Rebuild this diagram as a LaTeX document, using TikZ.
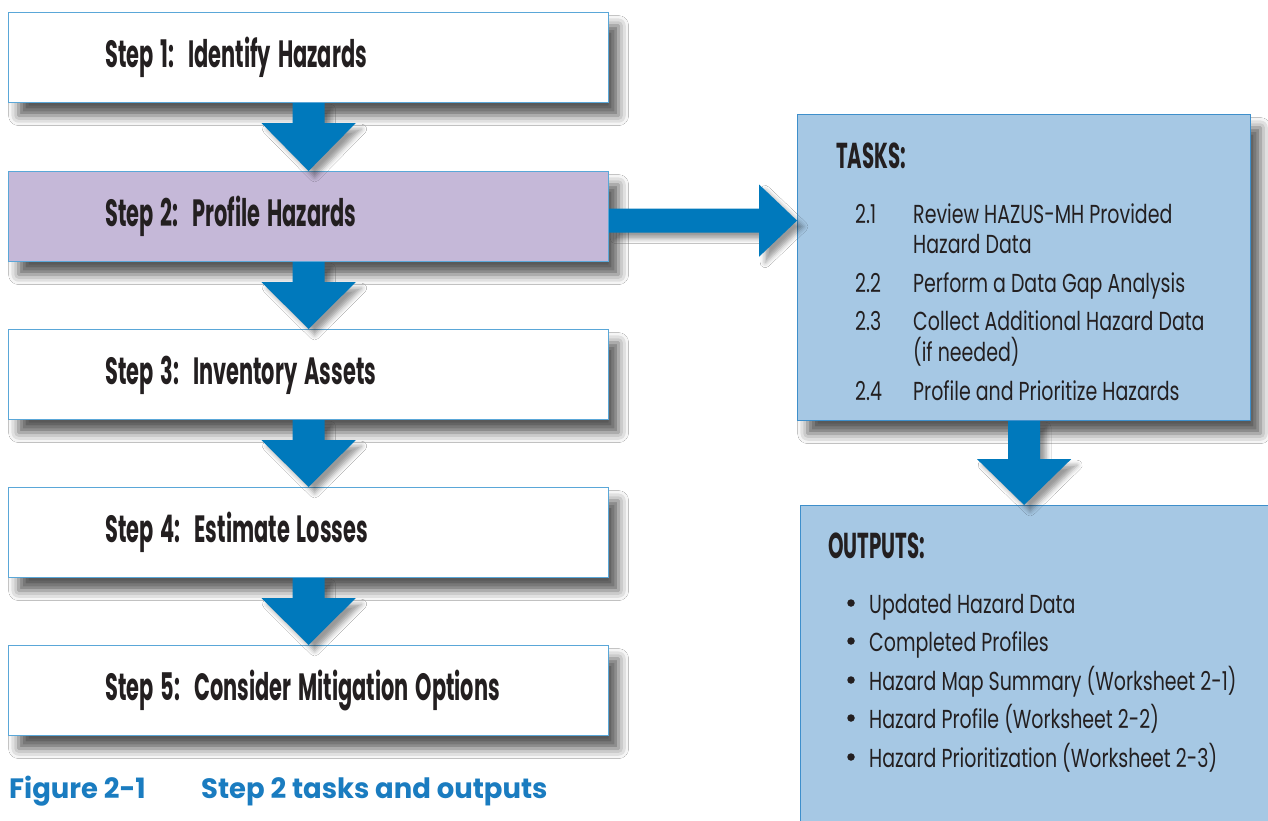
\documentclass[tikz,border=0pt]{standalone}
\usepackage{fontspec}
\usetikzlibrary{calc,shadows.blur}
\newfontfamily\headf{Poppins}[FakeStretch=0.55]
\newfontfamily\bodyf{Poppins}[FakeStretch=0.73]
\newfontfamily\capf{Poppins}[FakeStretch=0.98]
\definecolor{arrowblue}{HTML}{0079BC}
\definecolor{edgeblue}{HTML}{5AA7D8}
\definecolor{boxedge}{HTML}{3E8FCB}
\definecolor{stepviolet}{HTML}{C5B8D8}
\definecolor{taskblue}{HTML}{A6C8E4}
\definecolor{textblack}{HTML}{231F20}
\definecolor{capblue}{HTML}{1A7CC0}
\newcommand\wsp{\hspace{7pt}}
\newcommand\blockdown[3]{%
  \fill[blockarrow] ($(#1.south)+(-16,0)$) -- ($(#1.south)+(-16,#3)$) -- ($(#1.south)+(-47,#3)$) -- (#2) -- ($(#1.south)+(47,#3)$) -- ($(#1.south)+(16,#3)$) -- ($(#1.south)+(16,0)$) -- cycle;}
\begin{document}
\begin{tikzpicture}[x=1pt,y=-1pt,
  boxshadow/.style={blur shadow={shadow xshift=10pt, shadow yshift=-13pt, shadow blur radius=10pt, shadow opacity=65}},
  stepbox/.style={draw=edgeblue, line width=1.2pt, fill=white, minimum width=600pt, minimum height=90pt,
    anchor=north west, boxshadow},
  steptxt/.style={font=\headf\bfseries\fontsize{38}{40}\selectfont, text=textblack, anchor=base west, inner sep=0pt},
  bigbox/.style={draw=boxedge, line width=1.2pt, fill=taskblue, anchor=north west, boxshadow},
  headtxt/.style={font=\headf\bfseries\fontsize{36}{38}\selectfont, text=textblack, anchor=base west, inner sep=0pt},
  bodytxt/.style={font=\bodyf\fontsize{26}{28}\selectfont, text=textblack, anchor=base west, inner sep=0pt},
  captxt/.style={font=\capf\bfseries\fontsize{28}{30}\selectfont, text=capblue, anchor=base west, inner sep=0pt},
  bulletdot/.style={circle, fill=textblack, inner sep=0pt, minimum size=7.5pt},
  blockarrow/.style={fill=arrowblue, blur shadow={shadow xshift=6pt, shadow yshift=-6pt, shadow blur radius=5pt, shadow opacity=40}}
]
\useasboundingbox (0,0) rectangle (1268,821);
\fill[white] (0,0) rectangle (1268,821);
\clip (0,0) rectangle (1268,821);

% step boxes
\node[stepbox] (s1) at (8,12) {};
\node[stepbox, fill=stepviolet] (s2) at (8,171) {};
\node[stepbox] (s3) at (8,329) {};
\node[stepbox] (s4) at (8,487) {};
\node[stepbox] (s5) at (8,645) {};
\node[steptxt] (l1) at ($(s1.west)+(97,10)$) {Step\wsp 1:\wsp\wsp Identify\wsp Hazards};
\node[steptxt] (l2) at ($(s2.west)+(97,10)$) {Step\wsp 2:\wsp\wsp Profile\wsp Hazards};
\node[steptxt] (l3) at ($(s3.west)+(97,10)$) {Step\wsp 3:\wsp\wsp Inventory\wsp Assets};
\node[steptxt] (l4) at ($(s4.west)+(97,10)$) {Step\wsp 4:\wsp\wsp Estimate\wsp Losses};
\node[steptxt] (l5) at ($(s5.west)+(97,10)$) {Step\wsp 5:\wsp\wsp Consider\wsp Mitigation\wsp Options};

% task and output boxes
\node[bigbox, minimum width=453pt, minimum height=306pt] (t) at (797,114) {};
\node[bigbox, minimum width=520pt, minimum height=360pt] (o) at (800,505) {};

% arrows
\blockdown{s1}{s2.north}{20}
\blockdown{s2}{s3.north}{20}
\blockdown{s3}{s4.north}{20}
\blockdown{s4}{s5.north}{20}
\blockdown{t}{t.south |- o.north}{38}
\coordinate (ra) at ($(s2.east)+(0,4)$);
\fill[blockarrow] ($(ra)+(0,-12)$) -- ($(ra)+(150,-12)$) -- ($(ra)+(150,-36)$) -- (ra -| t.west) -- ($(ra)+(150,36)$) -- ($(ra)+(150,12)$) -- ($(ra)+(0,12)$) -- cycle;

% tasks text
\node[headtxt] (th) at (836,168) {TASKS:};
\node[bodytxt] (n1) at (855,223) {2.1};
\node[bodytxt] (x1) at (913,223) {Review HAZUS-MH Provided};
\node[bodytxt] (x1b) at (913,253) {Hazard Data};
\node[bodytxt] (n2) at (855,292) {2.2};
\node[bodytxt] (x2) at (913,292) {Perform a Data Gap Analysis};
\node[bodytxt] (n3) at (855,330) {2.3};
\node[bodytxt] (x3) at (913,330) {Collect Additional Hazard Data};
\node[bodytxt] (x3b) at (913,361) {(if needed)};
\node[bodytxt] (n4) at (855,400) {2.4};
\node[bodytxt] (x4) at (913,400) {Profile and Prioritize Hazards};

% outputs text
\node[headtxt] (oh) at (828,558) {OUTPUTS:};
\foreach \yy/\txt [count=\i] in {613/Updated Hazard Data, 651/Completed Profiles, 690/Hazard Map Summary (Worksheet 2-1), 728/Hazard Profile (Worksheet 2-2), 767/Hazard Prioritization (Worksheet 2-3)}{
  \node[bulletdot] (b\i) at (851,\yy-10) {};
  \node[bodytxt] (p\i) at (869,\yy) {\txt};
}

% caption
\node[captxt] (c1) at (9,798) {Figure 2-1};
\node[captxt] (c2) at (201,798) {Step 2 tasks and outputs};
\end{tikzpicture}
\end{document}
